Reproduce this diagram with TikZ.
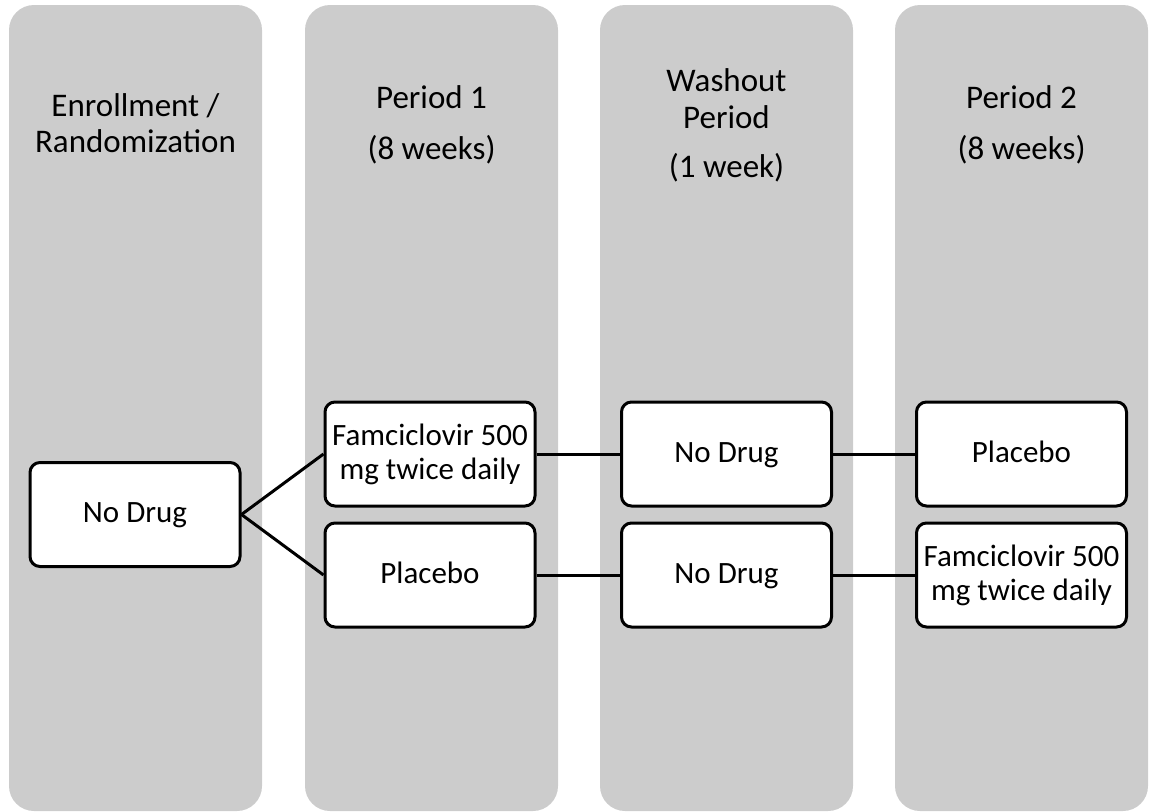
\documentclass[tikz,border=0pt]{standalone}
\usepackage{fontspec}
\setmainfont{Carlito}
\definecolor{colgray}{RGB}{204,204,204}
\newcommand{\bxs}{\rule[-9pt]{0pt}{34pt}}
\begin{document}
\begin{tikzpicture}[x=1pt,y=-1pt,
  colbox/.style={fill=colgray,rounded corners=25pt},
  head/.style={anchor=base,inner sep=0pt,font=\fontsize{33}{37}\selectfont},
  armbox/.style={draw=black,line width=3pt,fill=white,rounded corners=10pt,
    minimum width=210pt,minimum height=104pt,inner sep=2pt,align=center,
    font=\fontsize{31}{34}\selectfont},
  link/.style={draw=black,line width=3pt}]
\useasboundingbox (0,0) rectangle (1150,811);
% columns
\path[colbox] (9,5) rectangle (262,811);
\path[colbox] (305,5) rectangle (558,811);
\path[colbox] (600,5) rectangle (853,811);
\path[colbox] (895,5) rectangle (1148,811);
% headers
\node[head] (h1a) at (135.5,116) {Enrollment /};
\node[head] (h1b) at (135.5,152) {Randomization};
\node[head] (h2a) at (431.5,108) {Period 1};
\node[head] (h2b) at (431.5,159) {(8 weeks)};
\node[head] (h3a) at (726.5,91) {Washout};
\node[head] (h3b) at (726.5,128) {Period};
\node[head] (h3c) at (726.5,177) {(1 week)};
\node[head] (h4a) at (1021.5,108) {Period 2};
\node[head] (h4b) at (1021.5,159) {(8 weeks)};
% boxes
\node[armbox] (nd) at (135,514.5) {\bxs No Drug};
\node[armbox] (fam1) at (430,454) {\bxs Famciclovir 500\\\bxs mg twice daily};
\node[armbox] (pla1) at (430,575) {\bxs Placebo};
\node[armbox] (wo1) at (726.5,454) {\bxs No Drug};
\node[armbox] (wo2) at (726.5,575) {\bxs No Drug};
\node[armbox] (pla2) at (1021.5,454) {\bxs Placebo};
\node[armbox] (fam2) at (1021.5,575) {\bxs Famciclovir 500\\\bxs mg twice daily};
% connectors
\draw[link] (nd.east) -- (fam1.west);
\draw[link] (nd.east) -- (pla1.west);
\draw[link] (fam1.east) -- (wo1.west);
\draw[link] (wo1.east) -- (pla2.west);
\draw[link] (pla1.east) -- (wo2.west);
\draw[link] (wo2.east) -- (fam2.west);
\end{tikzpicture}
\end{document}
